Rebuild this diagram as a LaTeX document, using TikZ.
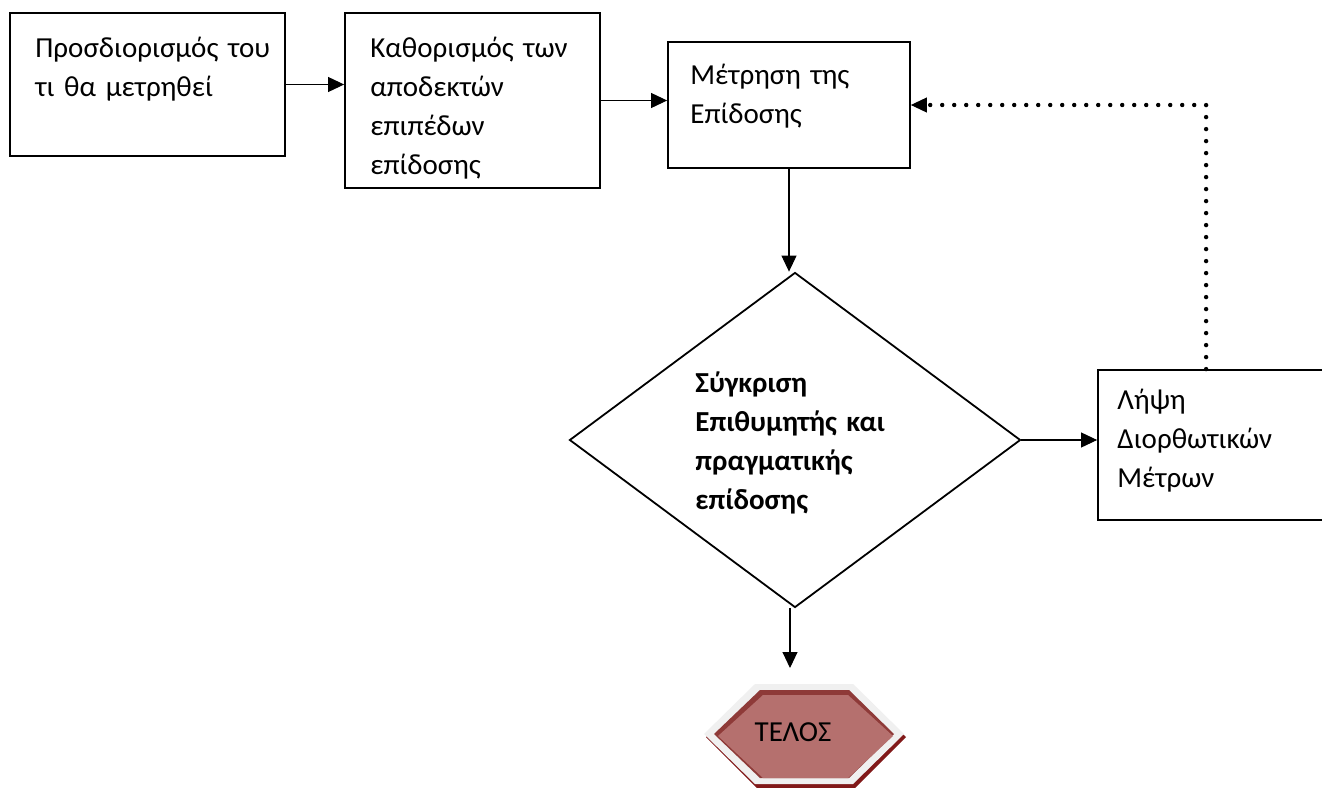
\documentclass[tikz,border=0pt]{standalone}
\usepackage{fontspec}
\setmainfont{Carlito}
\usetikzlibrary{arrows.meta,shapes.geometric,calc}
\begin{document}
\begin{tikzpicture}[x=0.5pt,y=-0.5pt,
  box/.style={draw, line width=0.9pt, inner sep=0pt, fill=white},
  txt/.style={anchor=base west, inner sep=0pt, text width=200pt, align=left,
              font=\fontsize{14.5}{19.5}\selectfont},
  flow/.style={line width=0.9pt, -{Triangle[length=8pt,width=7.5pt,line width=0.5pt]}},
  back/.style={line width=2.2pt, dash pattern=on 0pt off 6pt, line cap=round,
               -{Triangle[length=8pt,width=7.5pt,line width=0.5pt]}}]
\useasboundingbox (0,0) rectangle (1322,787);
\clip (0,0) rectangle (1322,787);
\fill[white] (0,0) rectangle (1322,787);

% process boxes
\node[box, minimum width=137.5pt, minimum height=71.5pt] (b1) at (147.5,84.5) {};
\node[box, minimum width=127.5pt, minimum height=87.5pt] (b2) at (472.5,100.5) {};
\node[box, minimum width=121pt, minimum height=63pt] (b3) at (789,105) {};
\node[box, minimum width=123.5pt, minimum height=75pt] (b4) at (1221.5,445) {};

% decision
\node[box, shape=diamond, minimum width=225.5pt, minimum height=167.5pt] (dia) at (795,440) {};

% box texts
\node[txt] (t1) at (35,57) {Προσδιορισμός του\\τι θα μετρηθεί};
\node[txt] (t2) at (370,57) {Καθορισμός των\\αποδεκτών\\επιπέδων\\επίδοσης};
\node[txt] (t3) at (690,84) {Μέτρηση της\\Επίδοσης};
\node[txt] (t4) at (1117,409) {Λήψη\\Διορθωτικών\\Μέτρων};
\node[txt, font=\fontsize{14.5}{19.5}\selectfont\bfseries] (td) at (695,392)
  {Σύγκριση\\Επιθυμητής και\\πραγματικής\\επίδοσης};

% end terminal: bevelled hexagon
\fill[red!45!black!90] (706,737) -- (757,687) -- (855,687) -- (906,737) -- (855,788) -- (757,788) -- cycle;
\fill[black!6] (704,734) -- (755,684) -- (853,684) -- (904,734) -- (853,784) -- (755,784) -- cycle;
\fill[fill={rgb,255:red,142;green,58;blue,56}] (714,734) -- (760,690) -- (849,690) -- (894,734) -- (849,778) -- (760,778) -- cycle;
\fill[fill={rgb,255:red,181;green,112;blue,110}] (718,736) -- (763,695) -- (848,695) -- (893,736) -- (848,778) -- (763,778) -- cycle;
\coordinate (hextop) at (804,684);
\node[inner sep=0pt, font=\fontsize{14.5}{17}\selectfont] (telos) at (793,732) {ΤΕΛΟΣ};

% connectors
\draw[flow] (b1.east) -- (b1.east -| b2.west);
\draw[flow] (b2.east) -- (b2.east -| b3.west);
\draw[flow] (b3.south) -- (b3.south |- dia.north);
\draw[flow] (dia.east) -- (dia.east -| b4.west);
\draw[flow, shorten >=8pt] ([xshift=-2.5pt]dia.south) -- ([xshift=-2.5pt]dia.south |- hextop);
\coordinate (fb) at ($(b4.north west)+(109,0)$);
\draw[back] (fb) |- (b3.east);
\end{tikzpicture}
\end{document}
